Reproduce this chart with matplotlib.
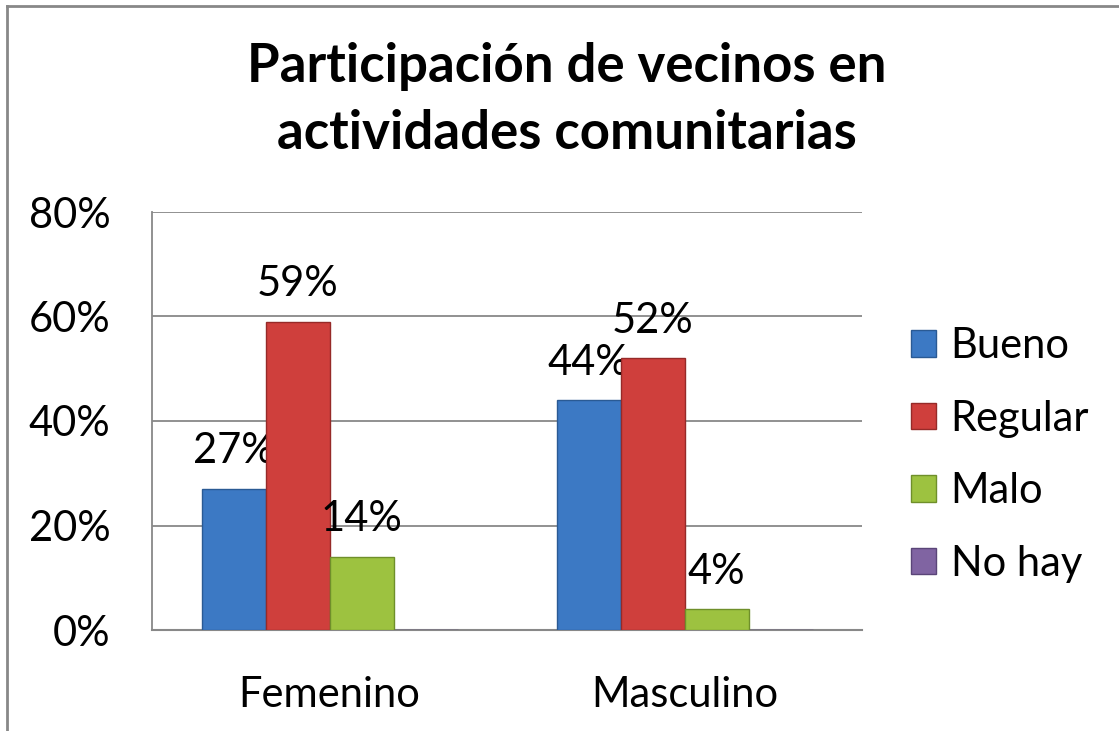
import numpy as np
import matplotlib.pyplot as plt
from matplotlib.lines import Line2D

# datos
grupos = ['Femenino', 'Masculino']
series = ['Bueno', 'Regular', 'Malo', 'No hay']
bueno = [27, 44]
regular = [59, 52]
malo = [14, 4]
no_hay = [0, 0]
valores = [bueno, regular, malo, no_hay]
colores = ['#3c79c4', '#cf3f3c', '#9dc240', '#8064a2']
bordes = ['#2a5a94', '#962a28', '#6f8f2a', '#5a4578']

plt.rcParams['font.family'] = ['Lato', 'DejaVu Sans']

fig = plt.figure(figsize=(11.19, 7.31), dpi=100)
W, H = 1119, 731
ax = fig.add_axes([152 / W, 1 - 630 / H, (862 - 152) / W, (630 - 212) / H])

x = np.array([0.5, 1.5])
ancho = 64 / 355
for i, (nombre, vals) in enumerate(zip(series, valores)):
    pos = x + (i - 1.5) * ancho
    barras = ax.bar(pos, vals, width=ancho, color=colores[i], edgecolor=bordes[i],
                    linewidth=1, label=nombre, zorder=3)
    if nombre != 'No hay':
        for b, v in zip(barras, vals):
            ax.annotate(f'{v}%', (b.get_x() + b.get_width() / 2, v),
                        xytext=(0, 27), textcoords='offset points',
                        ha='center', va='center', fontsize=30)

ax.set_xlim(0, 2)
ax.set_ylim(0, 80)
ax.set_yticks([0, 20, 40, 60, 80])
ax.set_yticklabels(['0%', '20%', '40%', '60%', '80%'], fontsize=30)
ax.set_xticks(x)
ax.set_xticklabels(grupos, fontsize=30)
ax.tick_params(length=0, pad=30)
ax.tick_params(axis='x', pad=33)
ax.grid(axis='y', color='#888888', linewidth=1.3, zorder=0)
for s in ['top', 'right']:
    ax.spines[s].set_visible(False)
ax.spines['left'].set_color('#888888')
ax.spines['bottom'].set_color('#888888')
ax.spines['left'].set_linewidth(1.3)
ax.spines['bottom'].set_linewidth(1.5)

fig.text(567 / W, 1 - 100 / H, 'Participación de vecinos en\nactividades comunitarias',
         ha='center', va='center', fontsize=38, fontweight='bold', linespacing=1.45)

handles = [plt.Rectangle((0, 0), 1, 1, facecolor=c, edgecolor=e) for c, e in zip(colores, bordes)]
fig.legend(handles, series, loc='center left', bbox_to_anchor=(911 / W, 1 - 455 / H),
           frameon=False, fontsize=30, handlelength=0.6, handleheight=0.6,
           handletextpad=0.35, labelspacing=0.83, borderaxespad=0, borderpad=0)

# borde del gráfico
fig.add_artist(Line2D([7 / W, 7 / W], [0, 1 - 6 / H], color='#888888', linewidth=2))
fig.add_artist(Line2D([7 / W, 1], [1 - 6 / H, 1 - 6 / H], color='#888888', linewidth=2))

fig.savefig('out.png', dpi=100)
